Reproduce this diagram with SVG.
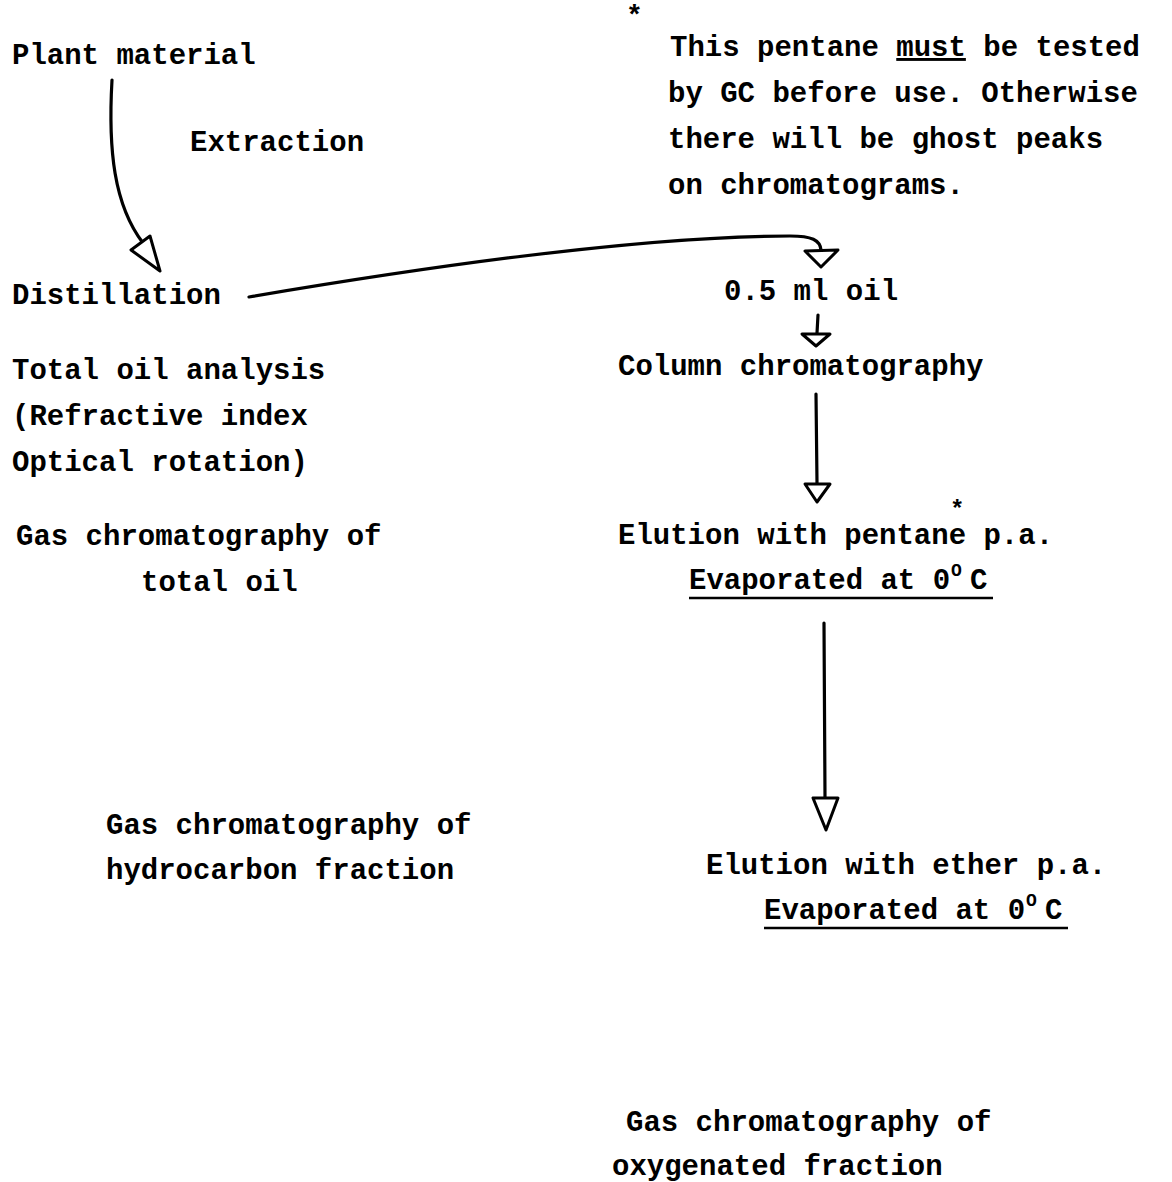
<svg xmlns="http://www.w3.org/2000/svg" width="1172" height="1182" viewBox="0 0 1172 1182">
<style>
text{font-family:"Liberation Mono","Courier New",monospace;font-weight:bold;font-size:29px;fill:#000}
.ln{fill:none;stroke:#000;stroke-width:3.2;stroke-linecap:round}
.ah{fill:#fff;stroke:#000;stroke-width:3;stroke-linejoin:round}
.ul{stroke:#000;stroke-width:2.5}
.star{font-size:28px}
.star2{font-size:24px}
.sup{font-size:18px}
</style>
<rect width="1172" height="1182" fill="#fff"/>
<g id="connectors">
<path class="ln" d="M112,80 C108,150 114,205 143,243"/>
<polygon class="ah" points="131,250 150,236 160,271"/>
<path class="ln" d="M249,297 C420,268 640,236 790,236 C812,236 820,240 821,250"/>
<polygon class="ah" points="805,251 838,250 821,267"/>
<path class="ln" d="M818,315 L817,333"/>
<polygon class="ah" points="802,334 830,334 816,346"/>
<path class="ln" d="M816,394 L817,483"/>
<polygon class="ah" points="805,484 830,484 817,502"/>
<path class="ln" d="M824,623 L825,797"/>
<polygon class="ah" points="813,798 838,798 826,830"/>
</g>
<g id="plant"><text x="12" y="64">Plant material</text></g>
<g id="extraction"><text x="190" y="151">Extraction</text></g>
<g id="distillation"><text x="12" y="304">Distillation</text></g>
<g id="total-analysis">
<text x="12" y="379">Total oil analysis</text>
<text x="12" y="425">(Refractive index</text>
<text x="12" y="471">Optical rotation)</text>
</g>
<g id="gc-total">
<text x="16" y="545">Gas chromatography of</text>
<text x="141" y="591">total oil</text>
</g>
<g id="gc-hydro">
<text x="106" y="834">Gas chromatography of</text>
<text x="106" y="879">hydrocarbon fraction</text>
</g>
<g id="note">
<text class="star" x="626" y="24">*</text>
<text x="670" y="56">This pentane <tspan text-decoration="underline">must</tspan> be tested</text>
<text x="668" y="102">by GC before use.  Otherwise</text>
<text x="668" y="148">there will be ghost peaks</text>
<text x="668" y="194">on chromatograms.</text>
</g>
<g id="oil"><text x="724" y="300">0.5 ml oil</text></g>
<g id="column"><text x="618" y="375">Column chromatography</text></g>
<g id="elution-pentane">
<text class="star2" x="950" y="517">*</text>
<text x="618" y="544">Elution with pentane p.a.</text>
<text x="689" y="589">Evaporated at 0<tspan class="sup" x="951" y="576">O</tspan><tspan x="970" y="589">C</tspan></text>
<line class="ul" x1="689" y1="598" x2="993" y2="598"/>
</g>
<g id="elution-ether">
<text x="706" y="874">Elution with ether p.a.</text>
<text x="764" y="919">Evaporated at 0<tspan class="sup" x="1026" y="906">O</tspan><tspan x="1045" y="919">C</tspan></text>
<line class="ul" x1="764" y1="928" x2="1068" y2="928"/>
</g>
<g id="gc-oxy">
<text x="626" y="1131">Gas chromatography of</text>
<text x="612" y="1175">oxygenated fraction</text>
</g>
</svg>
